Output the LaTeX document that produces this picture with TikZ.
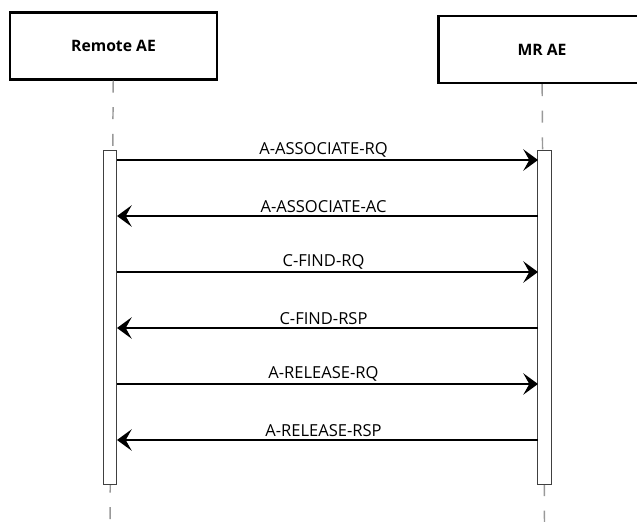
\documentclass[tikz,border=0pt]{standalone}
\usepackage{fontspec}
\setmainfont{Open Sans}
\usetikzlibrary{arrows.meta,positioning,shapes}

\begin{document}
\begin{tikzpicture} [x=0.75pt,y=-0.75pt,line width=1.5pt,
    >={Stealth[length=11pt,width=16pt,inset=4.5pt]},
    actor/.style={draw,line width=1.8pt,font=\bfseries\fontsize{11.8}{13}\selectfont,
      minimum width=155pt,minimum height=50pt},
    activation/.style={draw=black!75,fill=white,line width=0.8pt,
      minimum width=10pt,minimum height=251pt,inner sep=0pt},
    lifeline/.style={draw=black!40,line width=1.1pt,dash pattern=on 9pt off 11pt}]

  \useasboundingbox (0,0) rectangle (637,522);

  \node[actor] (remote) at (113.5,46) {Remote AE};
  \node[actor] (mr) at (542,49.5) {MR AE};

  \coordinate (remoteend) at (110,522);
  \coordinate (mrend) at (544.5,522);
  \draw[lifeline] (remote) -- (remoteend);
  \draw[lifeline] (mr) -- (mrend);

  \node[activation] (remoteact) at (110,317.5) {};
  \node[activation] (mract) at (544.5,317.5) {};

  \foreach \y [count=\i] in {160,216,272,328,384,440} {
    \coordinate (l\i) at (117,\y);
    \coordinate (r\i) at (538,\y);
  }

  \path[every node/.style={font=\fontsize{12.4}{14}\selectfont,above,inner sep=1.5pt,xshift=-3pt}]
    (l1) edge [->] node {A-ASSOCIATE-RQ} (r1)
    (r2) edge [->] node {A-ASSOCIATE-AC} (l2)
    (l3) edge [->] node {C-FIND-RQ} (r3)
    (r4) edge [->] node {C-FIND-RSP} (l4)
    (l5) edge [->] node {A-RELEASE-RQ} (r5)
    (r6) edge [->] node {A-RELEASE-RSP} (l6);

\end{tikzpicture}
\end{document}
